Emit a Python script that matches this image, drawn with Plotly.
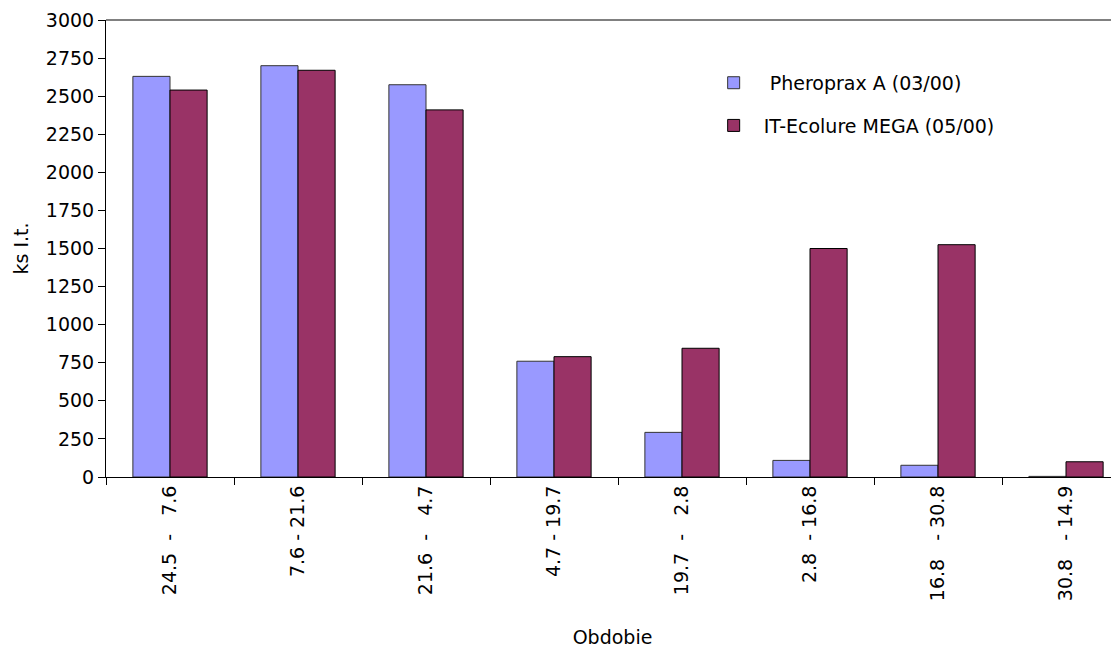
import plotly.graph_objects as go

NB = "\u00a0"
categories = [
    "24.5" + NB*2 + "-" + NB*3 + "7.6",
    "7.6" + NB + "-" + NB + "21.6",
    "21.6" + NB*2 + "-" + NB*3 + "4.7",
    "4.7" + NB + "-" + NB + "19.7",
    "19.7" + NB*2 + "-" + NB*3 + "2.8",
    "2.8" + NB*2 + "-" + NB + "16.8",
    "16.8" + NB*3 + "-" + NB + "30.8",
    "30.8" + NB*3 + "-" + NB + "14.9",
]
pheroprax = [2630, 2700, 2575, 760, 293, 109, 77, 4]
ecolure = [2540, 2670, 2410, 790, 845, 1500, 1525, 100]
series_names = [NB + "Pheroprax A (03/00)", "IT-Ecolure MEGA (05/00)"]
y_ticks = list(range(0, 3001, 250))

FONT = "DejaVu Sans, Verdana, sans-serif"
FS = 19

fig = go.Figure()
fig.add_trace(go.Bar(
    x=categories, y=pheroprax, name=series_names[0], legendgroup="a",
    marker=dict(color="#9999FF", line=dict(color="#333333", width=1)),
))
fig.add_trace(go.Bar(
    x=categories, y=ecolure, name=series_names[1], legendgroup="b",
    marker=dict(color="#993366", line=dict(color="#000000", width=1)),
))

# page body has an 8px margin; compensate so the plot lands where the reference has it
fig.update_layout(
    width=1111, height=640,
    margin=dict(l=98, r=0, t=12, b=165),
    paper_bgcolor="white", plot_bgcolor="white",
    font=dict(family=FONT, size=FS, color="black"),
    barmode="group", bargap=0.42, bargroupgap=0,
    showlegend=True,
    legend=dict(x=0.59, y=0.904, xanchor="left", yanchor="top",
                bgcolor="rgba(0,0,0,0)", tracegroupgap=15,
                traceorder="grouped", itemwidth=50,
                font=dict(family=FONT, size=FS, color="black")),
    xaxis=dict(
        type="category", range=[-0.5, 7.414],
        tickangle=-90, tickson="boundaries",
        ticks="outside", ticklen=7, tickcolor="black",
        showline=True, linecolor="black", linewidth=1,
        showgrid=False, zeroline=False,
        tickfont=dict(family=FONT, size=FS),
        title=dict(text="Obdobie", standoff=33, font=dict(family=FONT, size=FS)),
    ),
    yaxis=dict(
        range=[0, 3000], tickvals=y_ticks,
        ticks="outside", ticklen=7, tickcolor="black",
        showline=True, linecolor="black", linewidth=1,
        showgrid=False, zeroline=False,
        tickfont=dict(family=FONT, size=FS),
        title=dict(text="ks I.t.", standoff=12, font=dict(family=FONT, size=FS)),
    ),
    shapes=[dict(type="line", xref="paper", yref="paper", x0=0, x1=1, y0=1, y1=1,
                 line=dict(color="#808080", width=2))],
)

fig.write_html("out.html")
